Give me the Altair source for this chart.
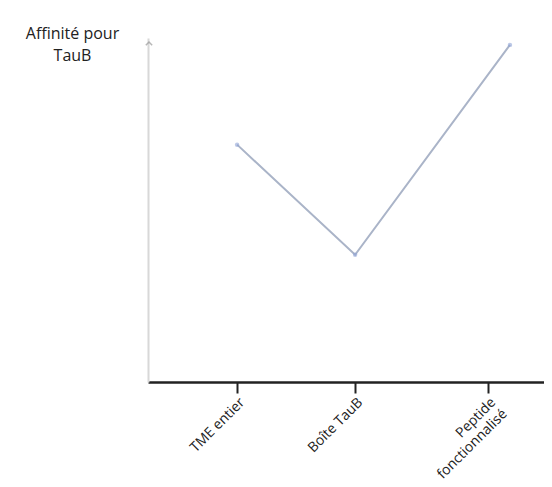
import altair as alt
import pandas as pd

categories = ["TME entier", "Boîte TauB", "Peptide\nfonctionnalisé"]
tick_positions = [2.25, 5.23, 8.59]
line_x = [2.25, 5.23, 9.14]
line_y = [6.9, 3.7, 9.8]

df = pd.DataFrame({"x": line_x, "y": line_y})

label_expr = (
    "split(datum.value == %s ? '%s' : datum.value == %s ? '%s' : '%s', '\\n')"
    % (tick_positions[0], categories[0], tick_positions[1], categories[1],
       categories[2].replace("\n", "\\n"))
)

x_enc = alt.X("x:Q", scale=alt.Scale(domain=[0, 10], nice=False, zero=False),
              axis=alt.Axis(values=tick_positions, labelExpr=label_expr,
                            labelAngle=-45, labelAlign="right", labelBaseline="top",
                            labelFontSize=14, labelColor="#222", labelFont="Open Sans",
                            labelPadding=2,
                            domainColor="#222", domainWidth=2.5,
                            tickColor="#222", tickWidth=2, tickSize=11,
                            grid=False, title=None, labelLineHeight=16))
y_enc = alt.Y("y:Q", scale=alt.Scale(domain=[0, 10], nice=False),
              axis=alt.Axis(values=[], domainColor="#d8d8d8", domainWidth=2,
                            ticks=False, labels=False, grid=False,
                            title=["Affinité pour", "TauB"], titleAngle=0,
                            titleAlign="center", titleBaseline="middle",
                            titleX=-76, titleY=-5, titleFontSize=16,
                            titleFontWeight="normal", titleColor="#222",
                            titleFont="Open Sans", titleLineHeight=22))

line = alt.Chart(df).mark_line(color="#aab4c8", strokeWidth=2).encode(x=x_enc, y=y_enc)
pts = alt.Chart(df).mark_point(color="#8fa3d6", size=20, filled=True, opacity=0.6).encode(
    x="x:Q", y="y:Q")

arrow = alt.Chart(pd.DataFrame({"a": [0]})).mark_point(
    shape="M-1,1L0,0L1,1", size=40, filled=False, stroke="#999", strokeWidth=1.5
).encode(x=alt.value(1), y=alt.value(4))

chart = alt.layer(line, pts, arrow).properties(
    width=396, height=344,
    autosize=alt.AutoSizeParams(type="none"),
    padding={"left": 140, "top": 30, "right": 0, "bottom": 100},
).configure_view(stroke=None)

chart.save("out.html", embed_options={"renderer": "svg", "actions": False})
